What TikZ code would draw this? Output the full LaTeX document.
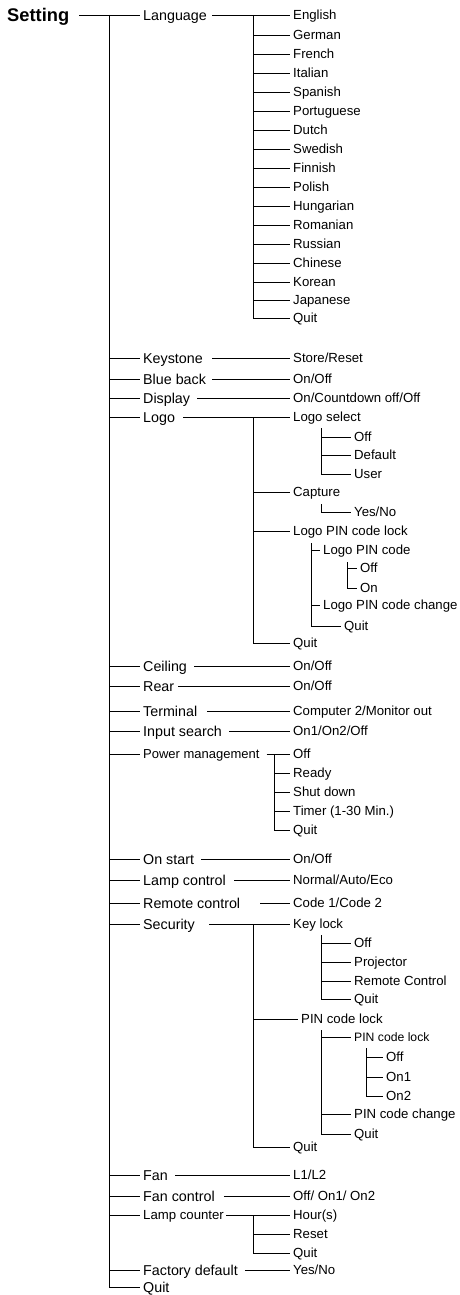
\documentclass[tikz,border=0pt]{standalone}
\usepackage{fontspec}
\setmainfont{Liberation Sans}
\begin{document}
\begin{tikzpicture}[x=1pt,y=-1pt,
  lbl/.style={anchor=west,inner xsep=3pt,inner ysep=0pt,text height=9.45pt,text depth=0pt,font=\fontsize{13.2}{15}\selectfont},
  l1/.style={lbl,font=\fontsize{14.3}{16}\selectfont,text height=10.2pt},
  ln/.style={line width=0.9pt,black}]
\useasboundingbox (0,0) rectangle (459,1295);
% root
\node[lbl,font=\bfseries\fontsize{18.3}{20}\selectfont,text height=13.1pt] (set) at (4,15) {Setting};
\coordinate (T) at (109,15);
% level 1
\node[l1] (lang) at (140,15) {Language};
\foreach \n/\t/\y in {key/Keystone/358, blu/Blue back/379, dis/Display/398, logo/Logo/417, ceil/Ceiling/666, rear/Rear/686, term/Terminal/711, inp/Input search/731, ons/On start/859, lampc/Lamp control/880, rem/Remote control/903, sec/Security/924, fan/Fan/1175, fanc/Fan control/1196, fac/Factory default/1270, q0/Quit/1287}
  \node[l1] (\n) at (140,\y) {\t};
\node[lbl,font=\fontsize{13}{15}\selectfont,text height=9.3pt] (pow) at (140,754) {Power management};
\node[lbl] (lcnt) at (140,1215) {Lamp counter};
\draw[ln] ([xshift=7pt]set.east) -- (lang.west);
\draw[ln] (T) -- (T |- q0.west);
\foreach \n in {key,blu,dis,logo,ceil,rear,term,inp,pow,ons,lampc,rem,sec,fan,fanc,lcnt,fac,q0}
  \draw[ln] (T |- \n.west) -- (\n.west);
% Language
\coordinate (LT) at (253,15);
\foreach \n/\t/\y in {en/English/15, de/German/35, fr/French/54, it/Italian/73, es/Spanish/92, pt/Portuguese/111, nl/Dutch/130, sv/Swedish/149, fi/Finnish/168, pl/Polish/187, hu/Hungarian/206, ro/Romanian/225, ru/Russian/244, zh/Chinese/263, ko/Korean/282, ja/Japanese/300, lq/Quit/318}
  \node[lbl] (\n) at (290,\y) {\t};
\draw[ln] ([xshift=2pt]lang.east) -- (en.west);
\draw[ln] (LT) -- (LT |- lq.west);
\foreach \n in {de,fr,it,es,pt,nl,sv,fi,pl,hu,ro,ru,zh,ko,ja,lq}
  \draw[ln] (LT |- \n.west) -- (\n.west);
% single values
\node[lbl] (sr) at (290,358) {Store/Reset};
\node[lbl] (bbv) at (290,379) {On/Off};
\node[lbl] (disv) at (290,398) {On/Countdown off/Off};
\node[lbl] (ceilv) at (290,666) {On/Off};
\node[lbl] (rearv) at (290,686) {On/Off};
\node[lbl] (termv) at (290,711) {Computer 2/Monitor out};
\node[lbl] (inpv) at (290,731) {On1/On2/Off};
\node[lbl] (onsv) at (290,859) {On/Off};
\node[lbl] (lampcv) at (290,880) {Normal/Auto/Eco};
\node[lbl] (remv) at (290,903) {Code 1/Code 2};
\node[lbl] (fanv) at (290,1175) {L1/L2};
\node[lbl] (fancv) at (290,1196) {Off/ On1/ On2};
\node[lbl] (facv) at (290,1270) {Yes/No};
\draw[ln] ([xshift=6pt]key.east) -- (sr.west);
\draw[ln] ([xshift=3pt]blu.east) -- (bbv.west);
\draw[ln] ([xshift=4pt]dis.east) -- (disv.west);
\draw[ln] ([xshift=4pt]ceil.east) -- (ceilv.west);
\draw[ln] ([xshift=1pt]rear.east) -- (rearv.west);
\draw[ln] ([xshift=7pt]term.east) -- (termv.west);
\draw[ln] ([xshift=4pt]inp.east) -- (inpv.west);
\draw[ln] ([xshift=4pt]ons.east) -- (onsv.west);
\draw[ln] ([xshift=5pt]lampc.east) -- (lampcv.west);
\draw[ln] ([xshift=17pt]rem.east) -- (remv.west);
\draw[ln] ([xshift=4pt]fan.east) -- (fanv.west);
\draw[ln] ([xshift=6pt]fanc.east) -- (fancv.west);
\draw[ln] ([xshift=4pt]fac.east) -- (facv.west);
% Logo
\coordinate (LG) at (253,417);
\node[lbl] (lsel) at (290,417) {Logo select};
\node[lbl] (cap) at (290,492) {Capture};
\node[lbl] (lpin) at (290,531) {Logo PIN code lock};
\node[lbl] (lgq) at (290,643) {Quit};
\draw[ln] ([xshift=5pt]logo.east) -- (lsel.west);
\draw[ln] (LG) -- (LG |- lgq.west);
\foreach \n in {cap,lpin,lgq} \draw[ln] (LG |- \n.west) -- (\n.west);
\coordinate (LS) at (321,428);
\node[lbl] (lsoff) at (351,437) {Off};
\node[lbl] (lsdef) at (351,455) {Default};
\node[lbl] (lsusr) at (351,474) {User};
\draw[ln] (LS) -- (LS |- lsusr.west);
\foreach \n in {lsoff,lsdef,lsusr} \draw[ln] (LS |- \n.west) -- (\n.west);
\coordinate (CP) at (321,504);
\node[lbl] (yn) at (351,512) {Yes/No};
\draw[ln] (CP) |- (yn.west);
\coordinate (LP) at (311,543);
\node[lbl] (lpc) at (320,550) {Logo PIN code};
\node[lbl] (lpcc) at (320,605) {Logo PIN code change};
\node[lbl] (lpq) at (341,626) {Quit};
\draw[ln] (LP) -- (LP |- lpq.west);
\foreach \n in {lpc,lpcc,lpq} \draw[ln] (LP |- \n.west) -- (\n.west);
\coordinate (LPC) at (347,562);
\node[lbl] (lpoff) at (357,568) {Off};
\node[lbl] (lpon) at (357,588) {On};
\draw[ln] (LPC) -- (LPC |- lpon.west);
\foreach \n in {lpoff,lpon} \draw[ln] (LPC |- \n.west) -- (\n.west);
% Power management
\coordinate (PM) at (274,754);
\node[lbl] (pmoff) at (290,754) {Off};
\node[lbl] (pmrdy) at (290,773) {Ready};
\node[lbl] (pmsd) at (290,792) {Shut down};
\node[lbl] (pmtim) at (290,811) {Timer (1-30 Min.)};
\node[lbl] (pmq) at (290,830) {Quit};
\draw[ln] ([xshift=4pt]pow.east) -- (pmoff.west);
\draw[ln] (PM) -- (PM |- pmq.west);
\foreach \n in {pmrdy,pmsd,pmtim,pmq} \draw[ln] (PM |- \n.west) -- (\n.west);
% Security
\coordinate (SC) at (253,924);
\node[lbl] (kl) at (290,924) {Key lock};
\node[lbl] (pcl) at (298,1019) {PIN code lock};
\node[lbl] (scq) at (290,1147) {Quit};
\draw[ln] ([xshift=11pt]sec.east) -- (kl.west);
\draw[ln] (SC) -- (SC |- scq.west);
\foreach \n in {pcl,scq} \draw[ln] (SC |- \n.west) -- (\n.west);
\coordinate (KL) at (321,935);
\node[lbl] (kloff) at (351,943) {Off};
\node[lbl] (klpr) at (351,962) {Projector};
\node[lbl] (klrc) at (351,981) {Remote Control};
\node[lbl] (klq) at (351,999) {Quit};
\draw[ln] (KL) -- (KL |- klq.west);
\foreach \n in {kloff,klpr,klrc,klq} \draw[ln] (KL |- \n.west) -- (\n.west);
\coordinate (PC) at (321,1030);
\node[lbl,font=\fontsize{12.2}{14}\selectfont,text height=8.7pt] (pcl2) at (351,1037) {PIN code lock};
\node[lbl] (pcc) at (351,1114) {PIN code change};
\node[lbl] (pcq) at (351,1134) {Quit};
\draw[ln] (PC) -- (PC |- pcq.west);
\foreach \n in {pcl2,pcc,pcq} \draw[ln] (PC |- \n.west) -- (\n.west);
\coordinate (PC2) at (366,1048);
\node[lbl] (p2off) at (383,1057) {Off};
\node[lbl] (p2on1) at (383,1077) {On1};
\node[lbl] (p2on2) at (383,1096) {On2};
\draw[ln] (PC2) -- (PC2 |- p2on2.west);
\foreach \n in {p2off,p2on1,p2on2} \draw[ln] (PC2 |- \n.west) -- (\n.west);
% Lamp counter
\coordinate (LCN) at (253,1215);
\node[lbl] (hr) at (290,1215) {Hour(s)};
\node[lbl] (rs) at (290,1234) {Reset};
\node[lbl] (lcq) at (290,1253) {Quit};
\draw[ln] ([xshift=-1pt]lcnt.east) -- (hr.west);
\draw[ln] (LCN) -- (LCN |- lcq.west);
\foreach \n in {rs,lcq} \draw[ln] (LCN |- \n.west) -- (\n.west);
\end{tikzpicture}
\end{document}
